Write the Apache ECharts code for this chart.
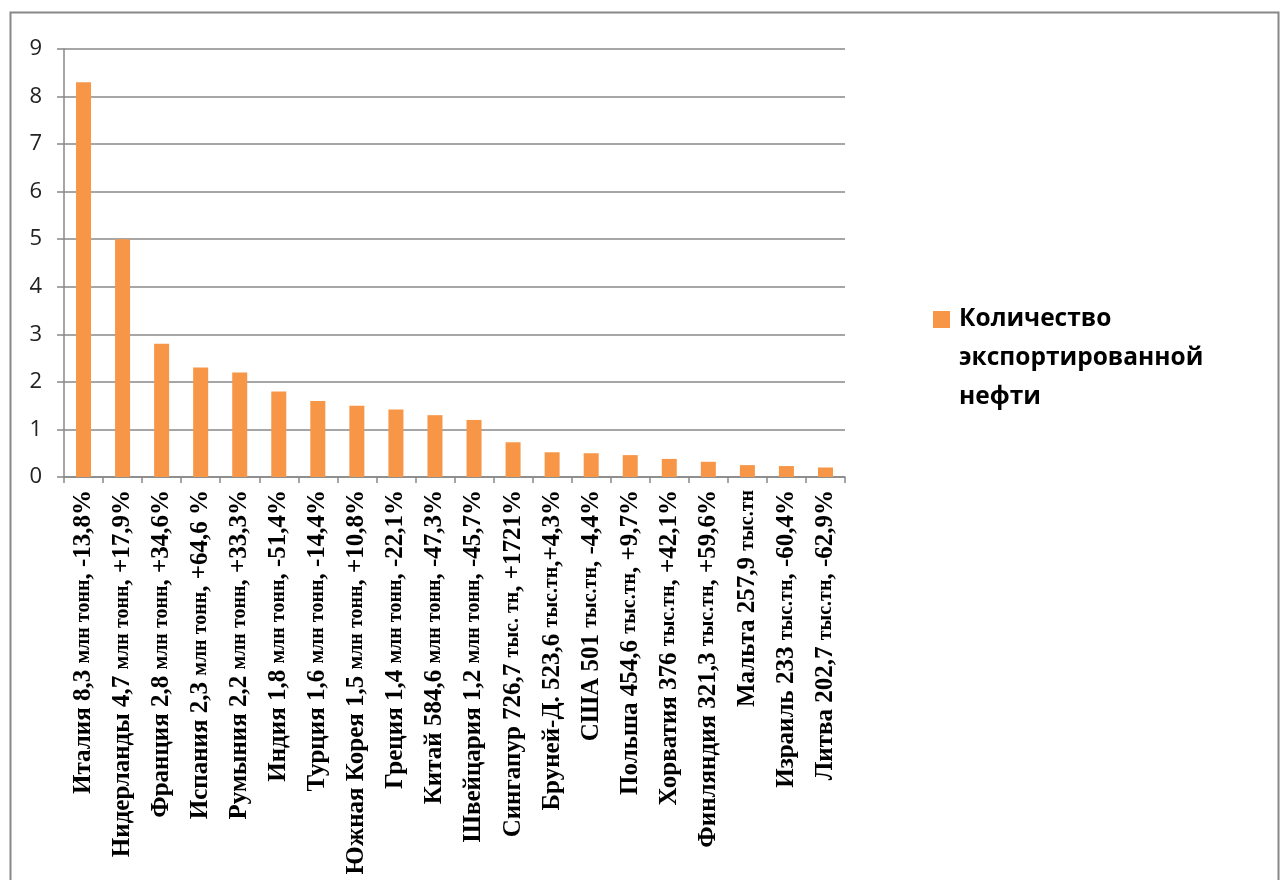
<!DOCTYPE html>
<html>
<head>
<meta charset="utf-8">
<script src="https://cdn.jsdelivr.net/npm/echarts@6/dist/echarts.min.js"></script>
<style>html,body{margin:0;padding:0;background:#fff}#c{width:1285px;height:880px}</style>
</head>
<body>
<div id="c"></div>
<script>
const categories = [
  "Италия 8,3 млн тонн, -13,8%",
  "Нидерланды 4,7 млн тонн, +17,9%",
  "Франция 2,8 млн тонн, +34,6%",
  "Испания 2,3 млн тонн, +64,6 %",
  "Румыния 2,2 млн тонн, +33,3%",
  "Индия 1,8 млн тонн, -51,4%",
  "Турция 1,6 млн тонн, -14,4%",
  "Южная Корея 1,5 млн тонн, +10,8%",
  "Греция 1,4 млн тонн, -22,1%",
  "Китай 584,6 млн тонн, -47,3%",
  "Швейцария 1,2 млн тонн, -45,7%",
  "Сингапур 726,7 тыс. тн, +1721%",
  "Бруней-Д. 523,6 тыс.тн,+4,3%",
  "США 501 тыс.тн, -4,4%",
  "Польша 454,6 тыс.тн, +9,7%",
  "Хорватия 376 тыс.тн, +42,1%",
  "Финляндия 321,3 тыс.тн, +59,6%",
  "Мальта 257,9 тыс.тн",
  "Израиль 233 тыс.тн, -60,4%",
  "Литва 202,7 тыс.тн, -62,9%"
];
const values = [8.3, 5.0, 2.8, 2.3, 2.2, 1.8, 1.6, 1.5, 1.42, 1.3, 1.2, 0.73, 0.52, 0.5, 0.46, 0.38, 0.32, 0.25, 0.23, 0.2];
const seriesName = "Количество";
const legendRest = "экспортированной\nнефти";
const yTicks = { min: 0, max: 9, interval: 1 };

function fmtLabel(s) {
  return s.split(/(млн тонн|тыс\. ?тн)/).map(function (p, i) {
    if (!p) return '';
    return (i % 2 === 1 ? '{u|' : '{m|') + p + '}';
  }).join('');
}

const chart = echarts.init(document.getElementById('c'), null, { renderer: 'canvas' });
chart.setOption({
  animation: false,
  backgroundColor: '#fff',
  grid: { left: 64, right: 440, top: 49, bottom: 403, containLabel: false },
  legend: {
    left: 933, top: 307, padding: 0,
    itemWidth: 17, itemHeight: 17, itemGap: 0,
    icon: 'rect',
    data: [seriesName],
    textStyle: { fontFamily: 'Open Sans', fontWeight: 'bold', fontSize: 24.5, color: '#000', padding: [0, 0, 0, 4] }
  },
  graphic: [
    { type: 'rect', silent: true, z: -1, shape: { x: 10.5, y: 12.5, width: 1268, height: 880 },
      style: { fill: 'none', stroke: '#888', lineWidth: 2 } },
    { type: 'text', left: 959, top: 339, silent: true,
      style: { text: legendRest, fontFamily: 'Open Sans', fontWeight: 'bold', fontSize: 24.5, lineHeight: 39, fill: '#000' } }
  ],
  xAxis: {
    type: 'category',
    data: categories,
    boundaryGap: true,
    axisLine: { lineStyle: { color: '#888', width: 1.5 } },
    axisTick: { show: true, length: 6, alignWithLabel: false, lineStyle: { color: '#888', width: 1.5 } },
    axisLabel: {
      interval: 0, rotate: 90, margin: 13,
      formatter: fmtLabel,
      rich: {
        m: { fontFamily: 'Liberation Serif', fontWeight: 'bold', fontSize: 25, color: '#000' },
        u: { fontFamily: 'Liberation Serif', fontWeight: 'bold', fontSize: 20, color: '#000' }
      }
    }
  },
  yAxis: {
    type: 'value',
    min: yTicks.min, max: yTicks.max, interval: yTicks.interval,
    axisLine: { show: true, lineStyle: { color: '#888', width: 1.5 } },
    axisTick: { show: true, length: 7, lineStyle: { color: '#888', width: 1.5 } },
    splitLine: { lineStyle: { color: '#888', width: 1.5 } },
    axisLabel: { fontFamily: 'Open Sans', fontSize: 22, color: '#222', margin: 22 }
  },
  series: [{
    name: seriesName,
    type: 'bar',
    data: values,
    barWidth: 15,
    itemStyle: { color: '#F79646' }
  }]
});
</script>
</body>
</html>
